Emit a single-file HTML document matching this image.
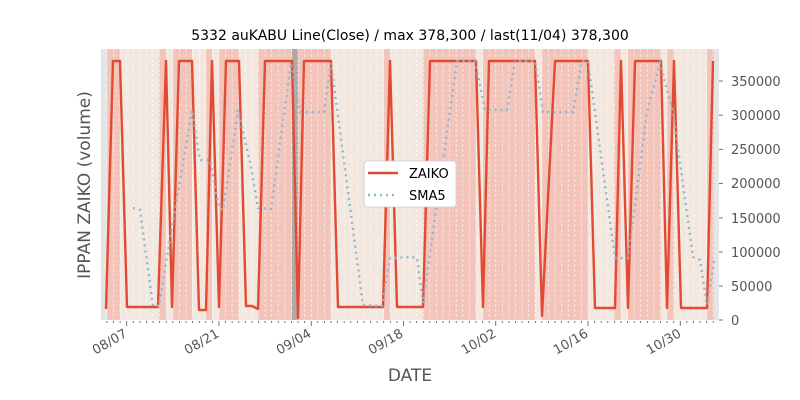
<!DOCTYPE html>
<html><head><meta charset="utf-8"><style>
html,body{margin:0;padding:0;background:#fff;}
svg{display:block;font-family:"DejaVu Sans","Liberation Sans",sans-serif;}
</style></head><body>
<svg width="800" height="400" viewBox="0 0 800 400" xmlns="http://www.w3.org/2000/svg">
<rect x="101" y="49" width="618" height="271" fill="#f2e8df"/>
<g fill="#e5e5e5"><rect x="101" y="49" width="6" height="271"/><rect x="714" y="49" width="5" height="271"/></g>
<g fill="#f2c4ba">
<rect x="107" y="49" width="13" height="271"/><rect x="159" y="49" width="7" height="271"/>
<rect x="173" y="49" width="19" height="271"/><rect x="206" y="49" width="6" height="271"/>
<rect x="219" y="49" width="20" height="271"/><rect x="258" y="49" width="34" height="271"/>
<rect x="298" y="49" width="33" height="271"/><rect x="384" y="49" width="6" height="271"/>
<rect x="423" y="49" width="53" height="271"/><rect x="483" y="49" width="52" height="271"/>
<rect x="542" y="49" width="46" height="271"/><rect x="614" y="49" width="7" height="271"/>
<rect x="628" y="49" width="33" height="271"/><rect x="667" y="49" width="7" height="271"/>
<rect x="707" y="49" width="7" height="271"/>
</g>
<rect x="292" y="49" width="6" height="271" fill="#b0aaa6"/>
<g id="grid" stroke="#ffffff" stroke-opacity="0.7" stroke-width="0.8" stroke-dasharray="3,2">
</g>
<polyline fill="none" stroke="#e24a33" stroke-width="2.4" stroke-linejoin="round" points="106,309 113,61 120,61 127,307 158,307 166,61 172,307 179,61 192,61 199,310 206,310 212,61 219,307 226,61 239,61 246,306 252,306 258,309 265,61 292,61 298,318 304,61 331,61 338,307 383,307 390,61 397,307 410,307 423,307 430,61 476,61 483,307 489,61 535,61 542,316 555,61 588,61 595,308 615,308 621,61 628,308 635,61 661,61 667,308 674,61 681,308 707,308 713,61"/>
<polyline fill="none" stroke="#8eb6d0" stroke-width="2.4" stroke-dasharray="2,4" stroke-linecap="butt" points="133,208 140,210 153,306 159,306 167,257 192,110 200,160 210,160 219,208 223,210 238,110 250,162 258,208 271,209 291,63 300,112 324,112 331,63 363,305 382,306 390,258 411,257 417,258 423,303 457,61 475,61 485,110 507,110 515,61 535,61 543,112 573,112 582,61 588,61 615,258 628,258 647,112 660,63 673,112 693,257 700,260 707,305 714,260"/>
<g stroke="#555" stroke-width="0.8" id="ticks"></g>
<g font-size="13" fill="#555" text-anchor="end">
<text transform="translate(128,336) rotate(-30)">08/07</text>
<text transform="translate(220,336) rotate(-30)">08/21</text>
<text transform="translate(312,336) rotate(-30)">09/04</text>
<text transform="translate(404,336) rotate(-30)">09/18</text>
<text transform="translate(497,336) rotate(-30)">10/02</text>
<text transform="translate(589,336) rotate(-30)">10/16</text>
<text transform="translate(682,336) rotate(-30)">10/30</text>
</g>
<g font-size="13" fill="#555">
<text x="731" y="325">0</text><text x="731" y="291">50000</text><text x="731" y="257">100000</text>
<text x="731" y="223">150000</text><text x="731" y="188">200000</text><text x="731" y="154">250000</text>
<text x="731" y="120">300000</text><text x="731" y="86">350000</text>
</g>
<g stroke="#555" stroke-width="0.8">
<line x1="719" x2="723" y1="320" y2="320"/><line x1="719" x2="723" y1="286" y2="286"/><line x1="719" x2="723" y1="252" y2="252"/>
<line x1="719" x2="723" y1="218" y2="218"/><line x1="719" x2="723" y1="183.4" y2="183.4"/><line x1="719" x2="723" y1="149.3" y2="149.3"/>
<line x1="719" x2="723" y1="115.2" y2="115.2"/><line x1="719" x2="723" y1="81" y2="81"/>
</g>
<text x="410" y="40" font-size="14" fill="#000" text-anchor="middle">5332 auKABU Line(Close) / max 378,300 / last(11/04) 378,300</text>
<text x="410" y="381" font-size="17" fill="#555" text-anchor="middle">DATE</text>
<text transform="translate(90,185) rotate(-90)" font-size="17" fill="#555" text-anchor="middle">IPPAN ZAIKO (volume)</text>
<rect x="364" y="161" width="92" height="46" rx="3" fill="#fff" stroke="#ccc" stroke-width="0.8"/>
<line x1="368" x2="398" y1="173" y2="173" stroke="#e24a33" stroke-width="2.4"/>
<line x1="368" x2="398" y1="195" y2="195" stroke="#8eb6d0" stroke-width="2.4" stroke-dasharray="2,4"/>
<text x="409" y="178" font-size="13" fill="#000">ZAIKO</text>
<text x="409" y="200" font-size="13" fill="#000">SMA5</text>
<script>
var g=document.getElementById('grid'),t=document.getElementById('ticks'),ns='http://www.w3.org/2000/svg';
for(var i=-4;i<=90;i++){var x=126.7+i*6.59;if(x<101||x>719)continue;
var l=document.createElementNS(ns,'line');l.setAttribute('x1',x);l.setAttribute('x2',x);l.setAttribute('y1',49);l.setAttribute('y2',320);g.appendChild(l);
var k=document.createElementNS(ns,'line');k.setAttribute('x1',x);k.setAttribute('x2',x);k.setAttribute('y1',321);k.setAttribute('y2',(i%14==0)?326:323);t.appendChild(k);}
</script>
</svg>
</body></html>
